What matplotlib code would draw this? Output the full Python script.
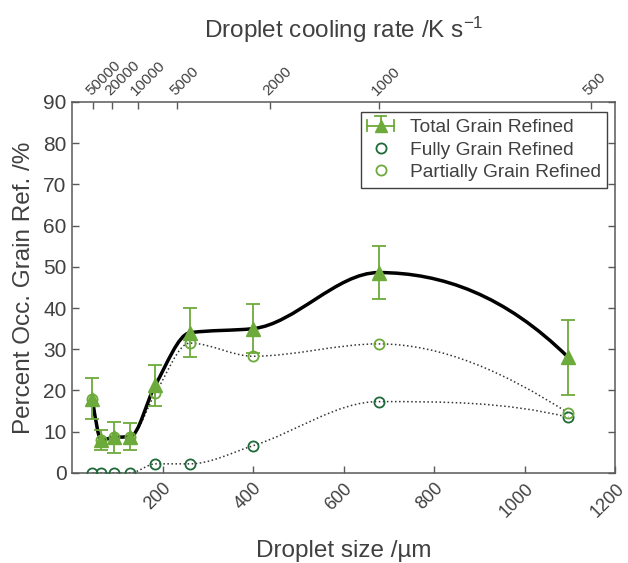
import numpy as np
import matplotlib
matplotlib.use("Agg")
import matplotlib.pyplot as plt
from matplotlib.path import Path
from matplotlib.patches import PathPatch
from matplotlib.lines import Line2D
from matplotlib.legend_handler import HandlerBase

# data
size = [45, 65, 92, 129, 184, 260, 400, 677, 1096]          # droplet size /um
total = [18.0, 8.0, 8.6, 8.8, 21.3, 34.0, 35.0, 48.6, 28.0]
total_err = [5.0, 2.5, 3.7, 3.2, 5.0, 6.0, 6.0, 6.5, 9.0]
fully = [0.0, 0.0, 0.0, 0.0, 2.2, 2.2, 6.6, 17.3, 13.5]
partial = [18.0, 8.0, 8.6, 8.8, 19.3, 31.5, 28.3, 31.3, 14.5]

rate_pos = [47, 89, 145, 233, 438, 679, 1145]
rate_lab = ['50000', '20000', '10000', '5000', '2000', '1000', '500']

light = '#6DAA3C'
dark = '#1E6A38'
txt = '#404040'
spine = '#595959'

plt.rcParams['font.family'] = ['Liberation Sans', 'DejaVu Sans']
plt.rcParams['mathtext.default'] = 'regular'


def pchip_slopes(x, y):
    x = np.asarray(x, float)
    y = np.asarray(y, float)
    h = np.diff(x)
    d = np.diff(y) / h
    m = np.zeros_like(y)
    for k in range(1, len(x) - 1):
        if d[k - 1] * d[k] > 0:
            w1 = 2 * h[k] + h[k - 1]
            w2 = h[k] + 2 * h[k - 1]
            m[k] = (w1 + w2) / (w1 / d[k - 1] + w2 / d[k])
    # end points
    for k, (h0, h1, d0, d1) in [(0, (h[0], h[1], d[0], d[1])),
                                (-1, (h[-1], h[-2], d[-1], d[-2]))]:
        e = ((2 * h0 + h1) * d0 - h0 * d1) / (h0 + h1)
        if np.sign(e) != np.sign(d0):
            e = 0
        elif np.sign(d0) != np.sign(d1) and abs(e) > abs(3 * d0):
            e = 3 * d0
        m[k] = e
    return m


def smooth_path(x, y):
    # hermite segments as cubic bezier
    m = pchip_slopes(x, y)
    verts = [(x[0], y[0])]
    codes = [Path.MOVETO]
    for i in range(len(x) - 1):
        h = x[i + 1] - x[i]
        verts += [(x[i] + h / 3, y[i] + m[i] * h / 3),
                  (x[i + 1] - h / 3, y[i + 1] - m[i + 1] * h / 3),
                  (x[i + 1], y[i + 1])]
        codes += [Path.CURVE4] * 3
    return Path(verts, codes)


class ErrHandler(HandlerBase):
    def create_artists(self, legend, orig, xd, yd, w, h, fs, trans):
        cy = h / 2 - yd
        x0, x1 = -xd, -xd + w
        xc = (x0 + x1) / 2
        arts = [Line2D([x0, x1], [cy, cy], color=light, lw=1.3),
                Line2D([x0, x0], [cy - 4, cy + 4], color=light, lw=1.3),
                Line2D([x1, x1], [cy - 4, cy + 4], color=light, lw=1.3),
                Line2D([xc, xc], [cy, cy + 7], color=light, lw=1.3),
                Line2D([xc - 4, xc + 4], [cy + 7, cy + 7], color=light, lw=1.3),
                Line2D([xc], [cy], marker='^', ms=8, color=light, ls='none')]
        for a in arts:
            a.set_transform(trans)
        return arts


fig = plt.figure(figsize=(6.28, 5.63), dpi=100)
ax = fig.add_axes([0.1146, 0.160, 0.8654, 0.659])

for ys in (partial, fully):
    ax.add_patch(PathPatch(smooth_path(size, ys), fill=False, ls=':',
                           lw=1.1, ec='#333333', zorder=2))
ax.add_patch(PathPatch(smooth_path(size, total), fill=False, lw=2.5,
                       ec='black', zorder=3))

h_full, = ax.plot(size, fully, 'o', mfc='none', mec=dark, ms=7.3, mew=1.3,
                  zorder=3.5, label='Fully Grain Refined')
h_part, = ax.plot(size, partial, 'o', mfc='none', mec=light, ms=7.3, mew=1.3,
                  zorder=3.5, label='Partially Grain Refined')
h_tot = ax.errorbar(size, total, yerr=total_err, fmt='^', color=light, ms=10,
                    elinewidth=1.3, capsize=5, capthick=1.3, zorder=4,
                    label='Total Grain Refined')

ax.set_xlim(0, 1200)
ax.set_ylim(0, 90)
ax.set_xticks([200, 400, 600, 800, 1000, 1200])
ax.set_yticks(np.arange(0, 91, 10))
ax.tick_params(axis='x', direction='in', length=5, width=1, colors=spine,
               labelcolor=txt, labelsize=13, pad=5)
ax.tick_params(axis='y', direction='in', length=5, width=1, colors=spine,
               labelcolor=txt, labelsize=15, right=True, pad=4)
for lab in ax.get_xticklabels():
    lab.set_rotation(45)
    lab.set_ha('right')
    lab.set_va('top')
    lab.set_rotation_mode('anchor')
for s in ax.spines.values():
    s.set_color(spine)
    s.set_linewidth(1.1)

ax.set_xlabel('Droplet size /µm', fontsize=17.5, color=txt, labelpad=14)
ax.set_ylabel('Percent Occ. Grain Ref. /%', fontsize=17.5, color=txt, labelpad=6)

ax2 = ax.twiny()
ax2.set_xlim(0, 1200)
ax2.set_xticks(rate_pos)
ax2.set_xticklabels(rate_lab, rotation=45, ha='left', va='bottom',
                    rotation_mode='anchor')
ax2.tick_params(axis='x', direction='in', length=5, width=1, colors=spine,
                labelcolor=txt, labelsize=11, pad=3)
for s in ax2.spines.values():
    s.set_visible(False)
ax2.set_xlabel('Droplet cooling rate /K s$^{-1}$', fontsize=17.5, color=txt,
               labelpad=14)

leg = ax.legend([h_tot, h_full, h_part],
                ['Total Grain Refined', 'Fully Grain Refined', 'Partially Grain Refined'],
                handler_map={type(h_tot): ErrHandler()},
                loc='upper right', bbox_to_anchor=(0.985, 0.972), borderaxespad=0,
                fontsize=13.8, fancybox=False, edgecolor='#404040', framealpha=1,
                handlelength=1.4, handletextpad=0.8, labelspacing=0.25,
                borderpad=0.35, numpoints=1)
leg.get_frame().set_linewidth(1.0)
for t in leg.get_texts():
    t.set_color(txt)

fig.savefig('out.png', dpi=100)
